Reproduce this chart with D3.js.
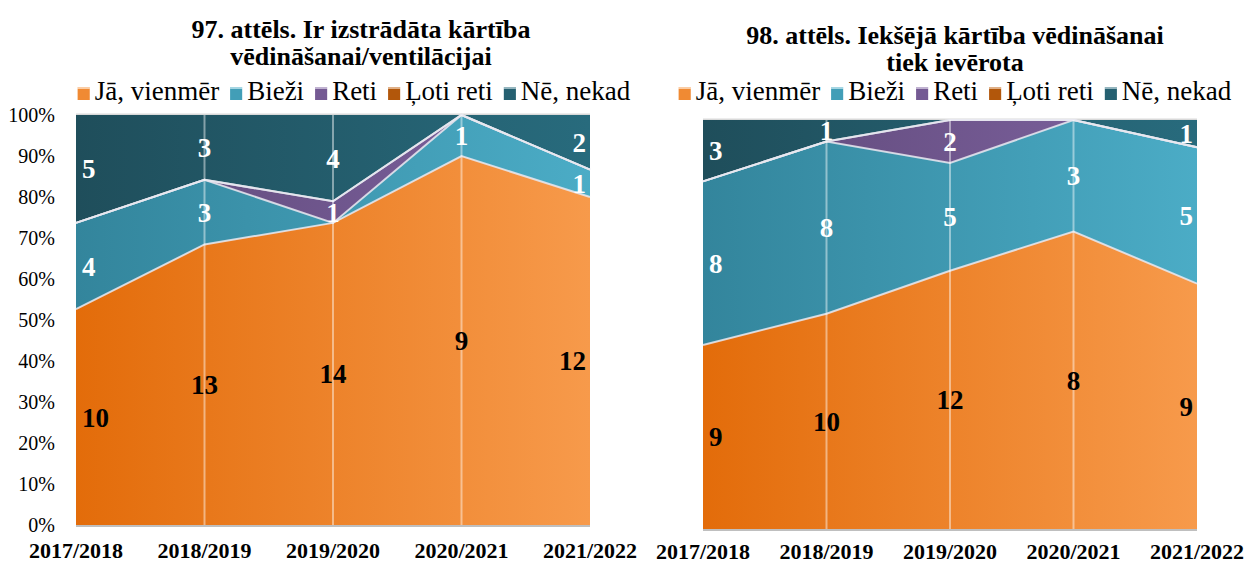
<!DOCTYPE html>
<html>
<head>
<meta charset="utf-8">
<script src="https://cdn.jsdelivr.net/npm/d3@7"></script>
<style>
  html, body { margin: 0; padding: 0; background: #ffffff; }
  svg { display: block; }
  svg text { font-family: "Liberation Serif", "Times New Roman", serif; }
</style>
</head>
<body>
<svg id="chart" width="1246" height="564"></svg>
<script>
// School years on the category axis
const years = ["2017/2018", "2018/2019", "2019/2020", "2020/2021", "2021/2022"];

// Answer categories (stack order, bottom to top)
const answers = ["Jā, vienmēr", "Bieži", "Reti", "Ļoti reti", "Nē, nekad"];

// Figure 97 – response counts per year
const fig97Ja       = [10, 13, 14, 9, 12];
const fig97Biezi    = [4, 3, 0, 1, 1];
const fig97Reti     = [0, 0, 1, 0, 0];
const fig97LotiReti = [0, 0, 0, 0, 0];
const fig97Ne       = [5, 3, 4, 0, 2];

// Figure 98 – response counts per year
const fig98Ja       = [9, 10, 12, 8, 9];
const fig98Biezi    = [8, 8, 5, 3, 5];
const fig98Reti     = [0, 0, 2, 0, 0];
const fig98LotiReti = [0, 0, 0, 0, 0];
const fig98Ne       = [3, 1, 0, 0, 1];

// Percent axis ticks
const percentTicks = [0, 0.1, 0.2, 0.3, 0.4, 0.5, 0.6, 0.7, 0.8, 0.9, 1];

// Horizontal gradient stops per answer (dark at left, light at right)
const gradientStops = {
  "Jā, vienmēr": ["#E36C0A", "#F79A4B"],
  "Bieži":       ["#33859C", "#4BACC6"],
  "Reti":        ["#5E4878", "#8064A2"],
  "Ļoti reti":   ["#984807", "#C0600F"],
  "Nē, nekad":   ["#1F4E5B", "#286B7D"]
};
const labelColor = {
  "Jā, vienmēr": "#000000",
  "Bieži": "#ffffff",
  "Reti": "#ffffff",
  "Ļoti reti": "#ffffff",
  "Nē, nekad": "#ffffff"
};

function buildRows(ja, biezi, reti, lotiReti, ne) {
  return years.map((y, i) => ({
    year: y,
    "Jā, vienmēr": ja[i],
    "Bieži": biezi[i],
    "Reti": reti[i],
    "Ļoti reti": lotiReti[i],
    "Nē, nekad": ne[i]
  }));
}

const svg = d3.select("#chart");
const defs = svg.append("defs");

function drawChart(opts) {
  const { id, rows, left, right, top, bottom, titleLines, titleX, titleY,
          legendX, legendY, showYAxis, xLabelY } = opts;

  const x = d3.scalePoint().domain(years).range([left, right]);
  const y = d3.scaleLinear().domain([0, 1]).range([bottom, top]);

  const stack = d3.stack().keys(answers).offset(d3.stackOffsetExpand);
  const layers = stack(rows);

  // gradients
  answers.forEach((a, i) => {
    const g = defs.append("linearGradient")
      .attr("id", `${id}-grad-${i}`)
      .attr("gradientUnits", "userSpaceOnUse")
      .attr("x1", left).attr("x2", right).attr("y1", 0).attr("y2", 0);
    g.append("stop").attr("offset", "0%").attr("stop-color", gradientStops[a][0]);
    g.append("stop").attr("offset", "100%").attr("stop-color", gradientStops[a][1]);
  });

  const root = svg.append("g").attr("class", id);

  // title
  const title = root.append("text")
    .attr("x", titleX).attr("y", titleY)
    .attr("text-anchor", "middle")
    .attr("font-size", 26).attr("font-weight", "bold").attr("fill", "#000");
  titleLines.forEach((t, i) => {
    title.append("tspan").attr("x", titleX).attr("dy", i === 0 ? 0 : 27).text(t);
  });

  // legend (centred over the chart)
  const legend = root.append("g");
  let cursor = 0;
  answers.forEach((a) => {
    const item = legend.append("g").attr("transform", `translate(${cursor},0)`);
    item.append("rect").attr("x", 0).attr("y", -13).attr("width", 12).attr("height", 13)
      .attr("fill", gradientStops[a][1]);
    item.append("rect").attr("x", 0).attr("y", -13).attr("width", 12).attr("height", 2)
      .attr("fill", "#ffffff").attr("opacity", 0.5);
    item.append("rect").attr("x", 0).attr("y", -11).attr("width", 12).attr("height", 11)
      .attr("fill", gradientStops[a][0]).attr("opacity", 0.35);
    const t = item.append("text").attr("x", 17).attr("y", 0)
      .attr("font-size", 27).attr("fill", "#000").text(a);
    cursor += 17 + t.node().getComputedTextLength() + 11;
  });
  const legendW = cursor - 11;
  legend.attr("transform", `translate(${legendX - legendW / 2},${legendY})`);

  // areas
  const area = d3.area()
    .x(d => x(d.data.year))
    .y0(d => y(d[0]))
    .y1(d => y(d[1]));

  // top border of the plot (100 % line)
  root.append("line")
    .attr("x1", left).attr("x2", right).attr("y1", top - 0.5).attr("y2", top - 0.5)
    .attr("stroke", "#D9D9D9").attr("stroke-width", 2);

  root.append("g").selectAll("path").data(layers).join("path")
    .attr("d", area)
    .attr("fill", (d, i) => `url(#${id}-grad-${i})`);

  // light separators along the top edge of each band
  const edge = d3.line().x(d => x(d.data.year)).y(d => y(d[1]));
  root.append("g").selectAll("path").data(layers.slice(0, layers.length - 1)).join("path")
    .attr("d", edge)
    .attr("fill", "none")
    .attr("stroke", "#E8E8F0").attr("stroke-opacity", 0.85).attr("stroke-width", 2);

  // vertical drop lines at interior categories
  root.append("g").selectAll("line").data(years.slice(1, years.length - 1)).join("line")
    .attr("x1", d => x(d)).attr("x2", d => x(d))
    .attr("y1", top).attr("y2", bottom)
    .attr("stroke", "#ffffff").attr("stroke-opacity", 0.45).attr("stroke-width", 2);

  // category axis line
  root.append("line")
    .attr("x1", left).attr("x2", right).attr("y1", bottom + 1).attr("y2", bottom + 1)
    .attr("stroke", "#BFBFBF").attr("stroke-width", 2);

  // category labels
  root.append("g").selectAll("text").data(years).join("text")
    .attr("x", d => x(d)).attr("y", xLabelY)
    .attr("text-anchor", "middle")
    .attr("font-size", 22).attr("font-weight", "bold").attr("fill", "#000")
    .text(d => d);

  // percent axis
  if (showYAxis) {
    root.append("g").selectAll("text").data(percentTicks).join("text")
      .attr("x", left - 21).attr("y", d => y(d))
      .attr("dy", "0.35em")
      .attr("text-anchor", "end")
      .attr("font-size", 20).attr("fill", "#000")
      .text(d => d3.format(".0%")(d));
  }

  // value labels (counts) at the middle of each band
  const labels = [];
  layers.forEach(layer => {
    layer.forEach((d, j) => {
      const v = d.data[layer.key];
      if (v > 0) labels.push({ key: layer.key, v, j, mid: (d[0] + d[1]) / 2, year: d.data.year });
    });
  });
  root.append("g").selectAll("text").data(labels).join("text")
    .attr("x", d => d.j === 0 ? x(d.year) + 6 : d.j === years.length - 1 ? x(d.year) - 4 : x(d.year))
    .attr("y", d => y(d.mid))
    .attr("dy", "0.35em")
    .attr("text-anchor", d => d.j === 0 ? "start" : d.j === years.length - 1 ? "end" : "middle")
    .attr("font-size", 27).attr("font-weight", "bold")
    .attr("fill", d => labelColor[d.key])
    .text(d => d.v);
}

drawChart({
  id: "f97",
  rows: buildRows(fig97Ja, fig97Biezi, fig97Reti, fig97LotiReti, fig97Ne),
  left: 76, right: 590, top: 115, bottom: 525,
  titleLines: ["97. attēls. Ir izstrādāta kārtība", "vēdināšanai/ventilācijai"],
  titleX: 361, titleY: 38, legendX: 354, legendY: 100,
  showYAxis: true, xLabelY: 558
});

drawChart({
  id: "f98",
  rows: buildRows(fig98Ja, fig98Biezi, fig98Reti, fig98LotiReti, fig98Ne),
  left: 703, right: 1197, top: 120, bottom: 529,
  titleLines: ["98. attēls. Iekšējā kārtība vēdināšanai", "tiek ievērota"],
  titleX: 955, titleY: 44, legendX: 955, legendY: 100,
  showYAxis: false, xLabelY: 559
});
</script>
</body>
</html>
